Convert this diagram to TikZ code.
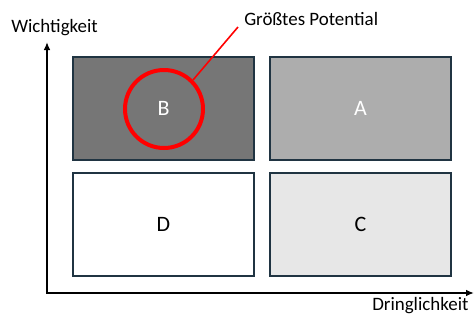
\documentclass[tikz,border=0pt]{standalone}
\usepackage{fontspec}
\setmainfont{Carlito}
\usetikzlibrary{arrows.meta}
\definecolor{edge}{RGB}{32,52,66}
\definecolor{fillB}{RGB}{118,118,118}
\definecolor{fillA}{RGB}{173,173,173}
\definecolor{fillC}{RGB}{231,231,231}
\tikzset{
  quad/.style={draw=edge, line width=1.5pt, minimum width=135.75pt, minimum height=77.25pt, inner sep=0pt, font=\fontsize{16.5}{18}\selectfont},
  axlabel/.style={font=\fontsize{14.2}{16}\selectfont, inner sep=0pt},
}
\begin{document}
\begin{tikzpicture}[x=0.75pt,y=-0.75pt]
\useasboundingbox (0,0) rectangle (475,322);
\node[quad, fill=fillB, text=white] (B) at (163.5,108.5) {B};
\node[quad, fill=fillA, text=white] (A) at (360.5,108.5) {A};
\node[quad, fill=white, text=black] (D) at (163.5,224.5) {D};
\node[quad, fill=fillC, text=black] (C) at (360.5,224.5) {C};
\coordinate (top) at (47,42);
\coordinate (origin) at (47,293);
\coordinate (right) at (474,293);
\draw[line width=1.5pt, {Latex[length=6pt,width=5pt]}-{Latex[length=6pt,width=5pt]}] (top) -- (origin) -- (right);
\node[axlabel, anchor=base west] (wl) at (11,32) {Wichtigkeit};
\node[axlabel, anchor=base west] (dl) at (372,310) {Dringlichkeit};
\node[axlabel, anchor=base west] (gp) at (244,25) {Größtes Potential};
\node[circle, draw=red, line width=3pt, minimum size=58.5pt, inner sep=0pt] (circ) at (164,109) {};
\coordinate (lend) at (238,27);
\draw[red, line width=1.2pt] (circ.45) -- (lend);
\end{tikzpicture}
\end{document}
